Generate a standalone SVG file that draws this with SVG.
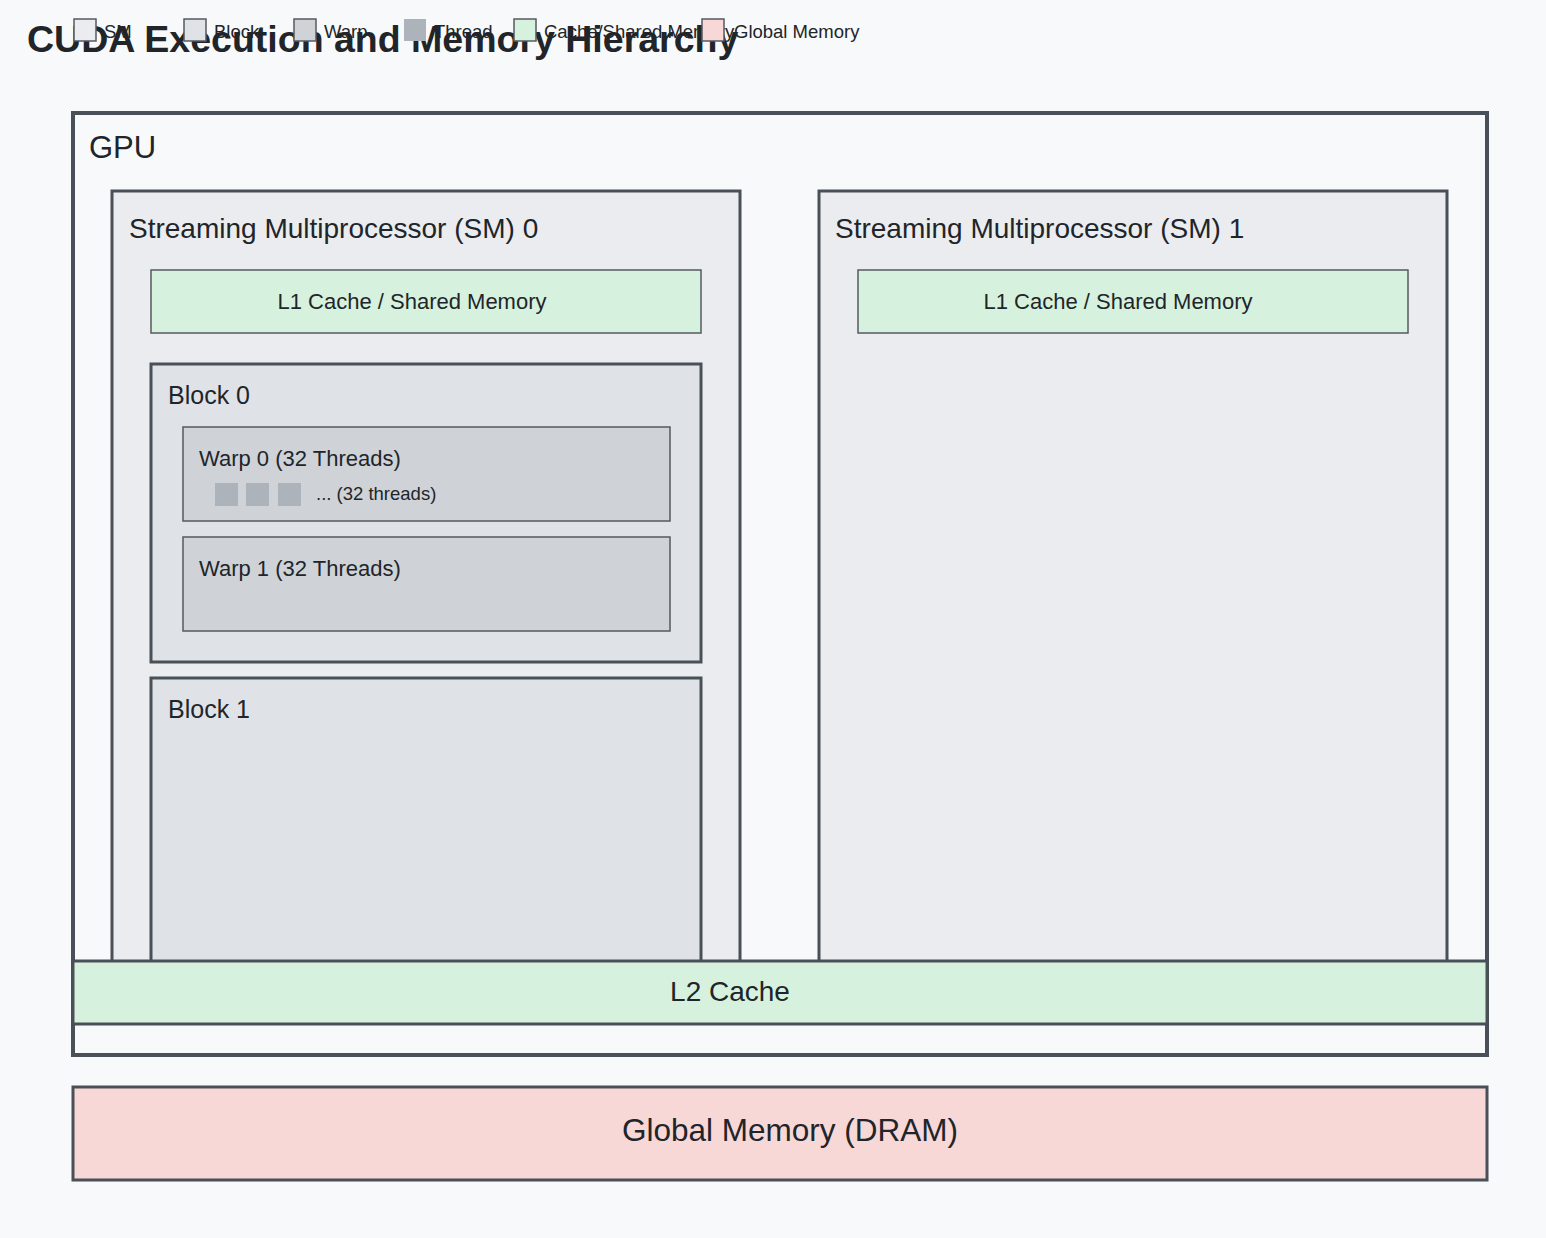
<svg xmlns="http://www.w3.org/2000/svg" width="1546" height="1238" viewBox="0 0 1546 1238">
<style>
text{font-family:"Liberation Sans",Arial,sans-serif;fill:#212529}
.thick{stroke:#495057;stroke-width:3}
.thin{stroke:#555a60;stroke-width:1.5}
.sm{fill:#ebecf0}
.blk{fill:#dfe2e6}
.warp{fill:#cfd3d8}
.thr{fill:#adb3bb}
.cache{fill:#d6f2de}
.glob{fill:#f8d7d7}
.leg{font-size:18.5px}
</style>
<rect width="1546" height="1238" fill="#f8f9fa"/>
<text x="27" y="52" font-size="37.5" font-weight="bold">CUDA Execution and Memory Hierarchy</text>
<g id="legend">
<rect x="74" y="19" width="22" height="22" class="sm thin"/><text x="104" y="38" class="leg">SM</text>
<rect x="184" y="19" width="22" height="22" class="blk thin"/><text x="214" y="38" class="leg">Block</text>
<rect x="294" y="19" width="22" height="22" class="warp thin"/><text x="324" y="38" class="leg">Warp</text>
<rect x="404" y="19" width="22" height="22" class="thr"/><text x="434" y="38" class="leg">Thread</text>
<rect x="514" y="19" width="22" height="22" class="cache thin"/><text x="544" y="38" class="leg">Cache/Shared Memory</text>
<rect x="702" y="19" width="22" height="22" class="glob thin"/><text x="734" y="38" class="leg">Global Memory</text>
</g>
<g id="gpu">
<rect x="73" y="113" width="1414" height="942" fill="#f8f9fa" stroke="#495057" stroke-width="4"/>
<text x="89" y="158" font-size="31">GPU</text>
</g>
<g id="sm0">
<rect x="112" y="191" width="628" height="800" class="sm thick"/>
<text x="129" y="238" font-size="28">Streaming Multiprocessor (SM) 0</text>
</g>
<g id="sm0-l1">
<rect x="151" y="270" width="550" height="63" class="cache thin"/>
<text x="412" y="309" font-size="22" text-anchor="middle">L1 Cache / Shared Memory</text>
</g>
<g id="block0">
<rect x="151" y="364" width="550" height="298" class="blk thick"/>
<text x="168" y="404" font-size="25">Block 0</text>
</g>
<g id="warp0">
<rect x="183" y="427" width="487" height="94" class="warp thin"/>
<text x="199" y="466" font-size="22">Warp 0 (32 Threads)</text>
<rect x="215" y="483" width="23" height="23" class="thr"/>
<rect x="246" y="483" width="23" height="23" class="thr"/>
<rect x="278" y="483" width="23" height="23" class="thr"/>
<text x="316" y="500" font-size="18.5">... (32 threads)</text>
</g>
<g id="warp1">
<rect x="183" y="537" width="487" height="94" class="warp thin"/>
<text x="199" y="576" font-size="22">Warp 1 (32 Threads)</text>
</g>
<g id="block1">
<rect x="151" y="678" width="550" height="320" class="blk thick"/>
<text x="168" y="718" font-size="25">Block 1</text>
</g>
<g id="sm1">
<rect x="819" y="191" width="628" height="800" class="sm thick"/>
<text x="835" y="238" font-size="28">Streaming Multiprocessor (SM) 1</text>
</g>
<g id="sm1-l1">
<rect x="858" y="270" width="550" height="63" class="cache thin"/>
<text x="1118" y="309" font-size="22" text-anchor="middle">L1 Cache / Shared Memory</text>
</g>
<g id="l2">
<rect x="73" y="961" width="1414" height="63" class="cache thick"/>
<text x="730" y="1001" font-size="28" text-anchor="middle">L2 Cache</text>
</g>
<g id="global">
<rect x="73" y="1087" width="1414" height="93" class="glob thick"/>
<text x="790" y="1141" font-size="31.5" text-anchor="middle">Global Memory (DRAM)</text>
</g>
<g id="connectors"/>
</svg>
